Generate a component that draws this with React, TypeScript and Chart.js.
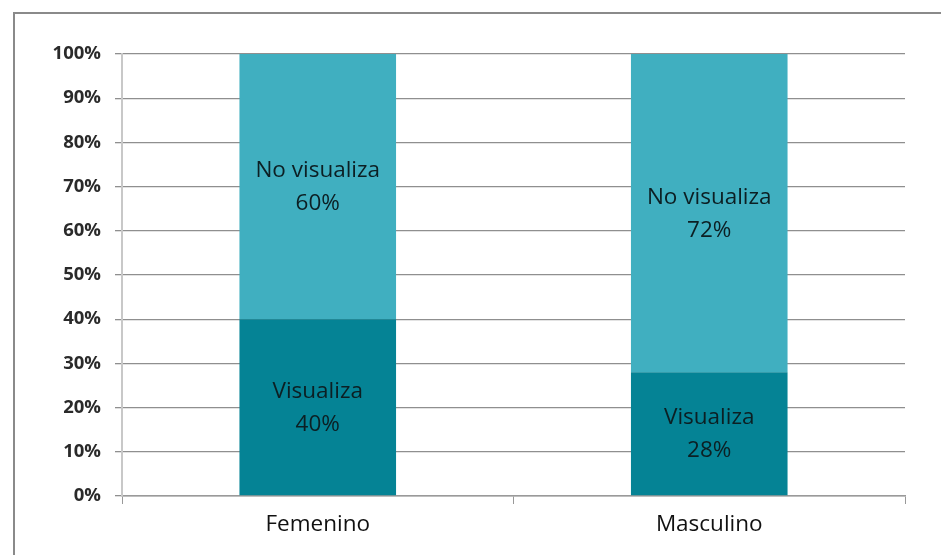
import React, { useEffect, useRef } from "react";
import { Chart, registerables } from "chart.js";

Chart.register(...registerables);

const categories = ["Femenino", "Masculino"];
const seriesNames = ["Visualiza", "No visualiza"];
const visualiza = [40, 28];
const noVisualiza = [60, 72];
const yTicks = [0, 10, 20, 30, 40, 50, 60, 70, 80, 90, 100];

const colors = ["#058395", "#40AFC0"];

const labelPlugin = {
  id: "segmentLabels",
  afterDatasetsDraw(chart: any) {
    const ctx = chart.ctx;
    ctx.save();
    ctx.font = "22.5px 'Open Sans'";
    ctx.fillStyle = "#0c1f23";
    ctx.textAlign = "center";
    ctx.textBaseline = "middle";
    chart.data.datasets.forEach((ds: any, di: number) => {
      const meta = chart.getDatasetMeta(di);
      meta.data.forEach((el: any, i: number) => {
        const cx = el.x;
        const cy = (el.y + el.base) / 2;
        ctx.fillText(ds.label, cx, cy - 16);
        ctx.fillText(ds.data[i] + "%", cx, cy + 17);
      });
    });
    ctx.restore();
  },
};

export default function App() {
  const ref = useRef<HTMLCanvasElement | null>(null);
  useEffect(() => {
    document.body.style.margin = "0";
    if (!ref.current) return;
    const chart = new Chart(ref.current, {
      type: "bar",
      data: {
        labels: categories,
        datasets: [
          { label: seriesNames[0], data: visualiza, backgroundColor: colors[0], borderWidth: 0 },
          { label: seriesNames[1], data: noVisualiza, backgroundColor: colors[1], borderWidth: 0 },
        ],
      },
      options: {
        animation: false,
        responsive: false,
        devicePixelRatio: 1,
        layout: { padding: { left: 0, right: 36, top: 54, bottom: 0 } },
        plugins: { legend: { display: false }, tooltip: { enabled: false } },
        datasets: { bar: { categoryPercentage: 1, barPercentage: 0.4 } },
        scales: {
          x: {
            stacked: true,
            afterFit: (s: any) => { s.height = 59; },
            grid: { drawOnChartArea: false, drawTicks: true, tickLength: 8, color: "#999", offset: true },
            border: { color: "#9a9a9a", width: 1.5 },
            ticks: { color: "#111", font: { family: "'Open Sans'", size: 22.5 }, padding: 7 },
          },
          y: {
            stacked: true,
            min: 0,
            max: 100,
            afterFit: (s: any) => { s.width = 122; },
            afterBuildTicks: (s: any) => { s.ticks = yTicks.map((v) => ({ value: v })); },
            grid: { color: "#8f8f8f", lineWidth: 1.3, tickLength: 7 },
            border: { color: "#c8c8c8", width: 2 },
            ticks: {
              color: "#2a2a2a",
              font: { family: "'Open Sans'", size: 18.5, weight: "bold" },
              padding: 14,
              callback: (v: any) => v + "%",
            },
          },
        },
      },
      plugins: [labelPlugin],
    });
    return () => chart.destroy();
  }, []);
  return (
    <div style={{ position: "relative", width: 941, height: 555, overflow: "hidden", background: "#fff" }}>
      <div
        style={{
          position: "absolute",
          left: 13,
          top: 12,
          width: 1000,
          height: 700,
          border: "2px solid #8a8a8a",
          boxSizing: "border-box",
        }}
      />
      <canvas ref={ref} width={941} height={555} style={{ position: "absolute", left: 0, top: 0 }} />
    </div>
  );
}
